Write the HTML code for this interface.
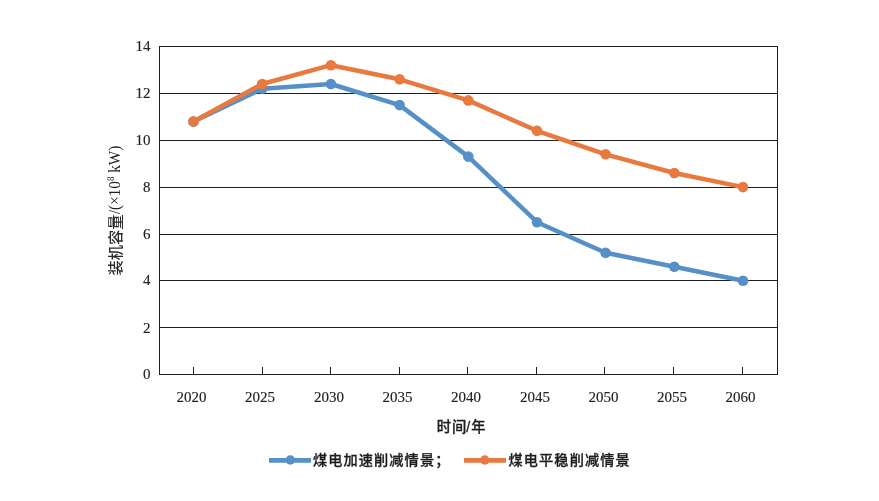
<!DOCTYPE html>
<html lang="zh-CN">
<head>
<meta charset="utf-8">
<title>装机容量</title>
<style>
html,body{margin:0;padding:0;background:#fff;}
body{width:879px;height:501px;overflow:hidden;}
svg{display:block;will-change:transform;}
.num{font-family:"Liberation Serif","Noto Serif CJK SC",serif;font-size:15px;fill:#222;stroke:#222;stroke-width:0.15px;}
.cjk{font-family:"Liberation Sans","Noto Sans CJK SC",sans-serif;font-weight:500;fill:#1e1e1e;stroke:#1e1e1e;stroke-width:0.3px;}
.cjkr{font-family:"Liberation Sans","Noto Sans CJK SC",sans-serif;font-weight:500;fill:#2a2a2a;}
.ser{font-family:"Liberation Serif","Noto Serif CJK SC",serif;}
</style>
</head>
<body>
<svg width="879" height="501" viewBox="0 0 879 501">
  <rect width="879" height="501" fill="#fff"/>
  <!-- gridlines -->
  <g stroke="#1e1e1e" stroke-width="1" fill="none" shape-rendering="crispEdges">
    <line x1="159" y1="93.5" x2="778" y2="93.5"/>
    <line x1="159" y1="140.5" x2="778" y2="140.5"/>
    <line x1="159" y1="187.5" x2="778" y2="187.5"/>
    <line x1="159" y1="234.5" x2="778" y2="234.5"/>
    <line x1="159" y1="280.5" x2="778" y2="280.5"/>
    <line x1="159" y1="327.5" x2="778" y2="327.5"/>
    <rect x="159.5" y="46.5" width="618" height="328"/>
    <!-- ticks -->
    <path d="M193.5 367V374M262.5 367V374M330.5 367V374M399.5 367V374M467.5 367V374M536.5 367V374M604.5 367V374M673.5 367V374M742.5 367V374"/>
  </g>
  <!-- y tick labels -->
  <g class="num" text-anchor="end" transform="translate(0.5 0)">
    <text x="150" y="51">14</text>
    <text x="150" y="98">12</text>
    <text x="150" y="145">10</text>
    <text x="150" y="192">8</text>
    <text x="150" y="239">6</text>
    <text x="150" y="285">4</text>
    <text x="150" y="333">2</text>
    <text x="150" y="379">0</text>
  </g>
  <!-- x tick labels -->
  <g class="num" text-anchor="middle">
    <text x="191.5" y="402">2020</text>
    <text x="260" y="402">2025</text>
    <text x="329" y="402">2030</text>
    <text x="397.5" y="402">2035</text>
    <text x="466" y="402">2040</text>
    <text x="535" y="402">2045</text>
    <text x="603.5" y="402">2050</text>
    <text x="672" y="402">2055</text>
    <text x="740.5" y="402">2060</text>
  </g>
  <!-- axis titles -->
  <text class="cjk" y="431.8" font-size="14.3"><tspan x="436.8">时</tspan><tspan x="452.1">间</tspan><tspan x="466.2">/</tspan><tspan x="471.2">年</tspan></text>
  <text class="cjkr" transform="translate(121 275.6) rotate(-90)" font-size="15.3">装机容量</text>
  <text class="ser" transform="translate(120.4 145.6) rotate(-90) scale(1 1.12)" text-anchor="end" font-size="15.3" fill="#222"><tspan font-size="14">/</tspan><tspan>(×10</tspan><tspan font-size="9" dy="-5.6">8</tspan><tspan dy="5.6"> kW)</tspan></text>
  <!-- series -->
  <g fill="#5590c8">
    <polyline fill="none" stroke="#5590c8" stroke-width="4.5" stroke-linejoin="round" stroke-linecap="round" points="193.5,121.5 262.2,88.7 330.9,84.0 399.6,105.1 468.3,156.6 537.0,222.2 605.6,252.7 674.3,266.7 743.0,280.8"/>
    <circle cx="193.5" cy="121.5" r="5.3"/>
    <circle cx="262.2" cy="88.7" r="5.3"/>
    <circle cx="330.9" cy="84.0" r="5.3"/>
    <circle cx="399.6" cy="105.1" r="5.3"/>
    <circle cx="468.3" cy="156.6" r="5.3"/>
    <circle cx="537.0" cy="222.2" r="5.3"/>
    <circle cx="605.6" cy="252.7" r="5.3"/>
    <circle cx="674.3" cy="266.7" r="5.3"/>
    <circle cx="743.0" cy="280.8" r="5.3"/>
  </g>
  <g fill="#e8793f">
    <polyline fill="none" stroke="#e8793f" stroke-width="4.5" stroke-linejoin="round" stroke-linecap="round" points="193.5,121.5 262.2,84.0 330.9,65.2 399.6,79.3 468.3,100.4 537.0,130.8 605.6,154.3 674.3,173.0 743.0,187.1"/>
    <circle cx="193.5" cy="121.5" r="5.3"/>
    <circle cx="262.2" cy="84.0" r="5.3"/>
    <circle cx="330.9" cy="65.2" r="5.3"/>
    <circle cx="399.6" cy="79.3" r="5.3"/>
    <circle cx="468.3" cy="100.4" r="5.3"/>
    <circle cx="537.0" cy="130.8" r="5.3"/>
    <circle cx="605.6" cy="154.3" r="5.3"/>
    <circle cx="674.3" cy="173.0" r="5.3"/>
    <circle cx="743.0" cy="187.1" r="5.3"/>
  </g>
  <!-- legend -->
  <g>
    <line x1="269" y1="460.4" x2="311" y2="460.4" stroke="#5590c8" stroke-width="4.8"/>
    <circle cx="290.3" cy="460" r="4.7" fill="#5590c8"/>
    <text class="cjk" x="312.9" y="465" font-size="14.2" letter-spacing="1.1">煤电加速削减情景；</text>
    <line x1="464" y1="460.4" x2="506" y2="460.4" stroke="#e8793f" stroke-width="4.8"/>
    <circle cx="484.8" cy="460" r="4.7" fill="#e8793f"/>
    <text class="cjk" x="508.5" y="465" font-size="14.2" letter-spacing="1.1">煤电平稳削减情景</text>
  </g>
</svg>
</body>
</html>
